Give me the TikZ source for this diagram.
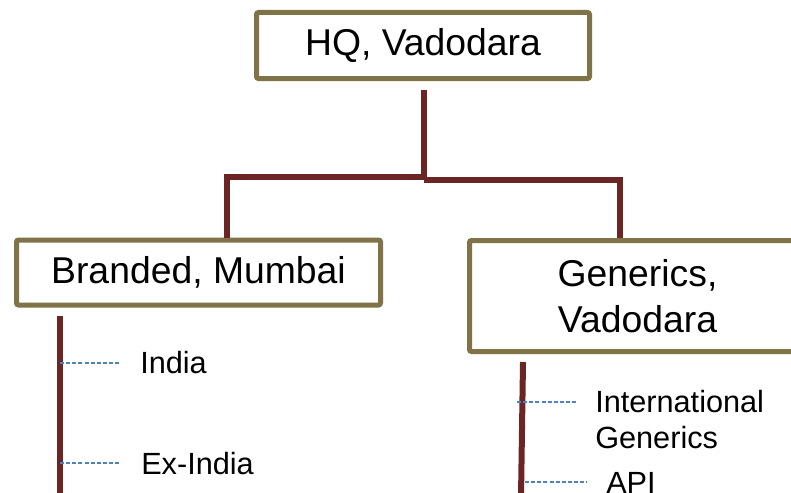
\documentclass[tikz,border=0pt]{standalone}
\usepackage{fontspec}
\setmainfont{Liberation Sans}
\usepackage{xcolor}
\usepackage{tikz}
\usetikzlibrary{positioning}
\definecolor{boxolive}{RGB}{127,115,71}
\definecolor{trunkred}{RGB}{107,37,37}
\definecolor{dashblue}{RGB}{79,129,189}
\def\px{0.75pt}
\def\orgw{791}
\def\orgh{492}

\begin{document}
\begin{tikzpicture}[x={(\px,0pt)}, y={(0pt,-\px)},
  unit/.style={draw=boxolive, line width=3.75pt, rounded corners=1.5pt, fill=white,
    inner sep=0pt, align=center, font=\fontsize{28}{35}\selectfont},
  trunk/.style={draw=trunkred, line width=4.5pt},
  twig/.style={draw=dashblue, line width=1.3pt, dash pattern=on 3pt off 1.6pt},
  leaf/.style={anchor=base west, inner sep=0pt, align=left, font=\fontsize{23}{27}\selectfont}]
		\useasboundingbox (0,0) rectangle (\orgw,\orgh);
		\clip (0,0) rectangle (\orgw,\orgh);
		% units
		\node[unit, minimum width=333*\px, minimum height=66*\px] (hq) at (423,45.5) {HQ, Vadodara};
		\node[unit, minimum width=364*\px, minimum height=65*\px] (branded) at (198.5,272.5) {Branded, Mumbai};
		\node[unit, minimum width=336*\px, minimum height=111*\px] (generics) at (637.5,296) {Generics,\\Vadodara};
		% tree
		\coordinate (hq-stub) at (424,90);
		\coordinate (split) at (424,180);
		\coordinate (split-l) at (424,177);
		\coordinate (left-knee) at (227,177);
		\coordinate (right-knee) at (620,180);
		\draw[trunk] (hq-stub) -- (split);
		\draw[trunk] (split-l) -- (left-knee) -- (left-knee |- branded.north);
		\draw[trunk] (split) -- (right-knee) -- (right-knee |- generics.north);
		% branded divisions
		\coordinate (br-top) at (60,316);
		\coordinate (br-bot) at (60,497);
		\coordinate (india-a) at (60,363);
		\coordinate (india-b) at (120,363);
		\coordinate (exindia-a) at (60,463);
		\coordinate (exindia-b) at (120,463);
		\draw[trunk] (br-top) -- (br-bot);
		\draw[twig] (india-a) -- (india-b);
		\draw[twig] (exindia-a) -- (exindia-b);
		\node[leaf] (india) at (140,373) {India};
		\node[leaf] (exindia) at (141,474) {Ex-India};
		% generics divisions
		\coordinate (ge-top) at (523,362);
		\coordinate (ge-bot) at (521,497);
		\coordinate (intl-a) at (517,402);
		\coordinate (intl-b) at (577,402);
		\coordinate (api-a) at (525,482);
		\coordinate (api-b) at (587,482);
		\draw[trunk] (ge-top) -- (ge-bot);
		\draw[twig] (intl-a) -- (intl-b);
		\draw[twig] (api-a) -- (api-b);
		\node[leaf] (intl) at (595,448) {International\\Generics};
		\node[leaf] (api) at (606,493) {API};
	\end{tikzpicture}
\end{document}
